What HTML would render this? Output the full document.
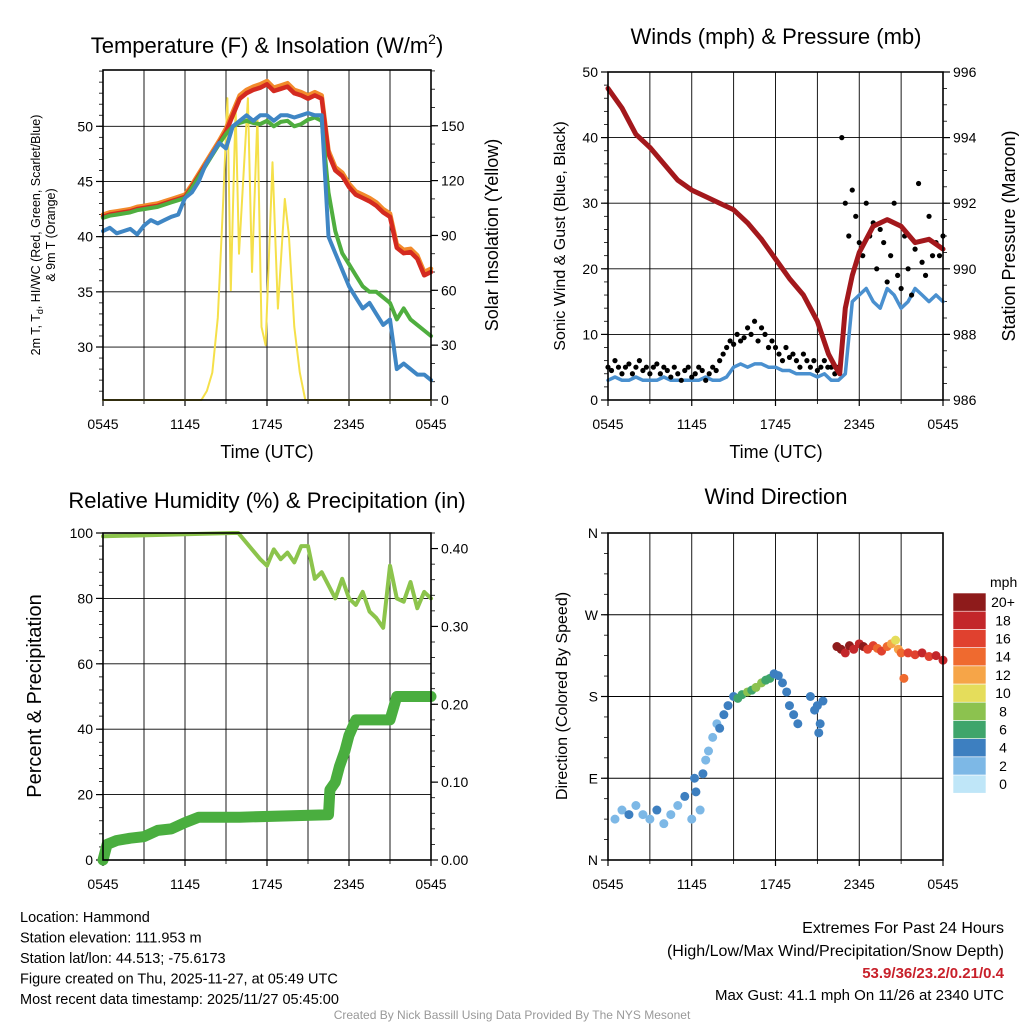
<!DOCTYPE html>
<html><head><meta charset="utf-8"><style>
html,body{margin:0;padding:0;background:#fff;}
svg{display:block;font-family:"Liberation Sans",Arial,sans-serif;}
</style></head><body>
<svg id="chart" width="1024" height="1024" viewBox="0 0 1024 1024">
<rect width="1024" height="1024" fill="#fff"/>
</svg>
<script>
// ---------- Panel 1 data: temperature & insolation ----------
const tHours = [0,0.5,1,1.5,2,2.5,3,3.5,4,4.5,5,5.5,6,6.5,7,7.5,8,8.5,9,9.5,10,10.5,11,11.5,12,12.5,13,13.5,14,14.5,15,15.5,16,16.5,17,17.5,18,18.5,19,19.5,20,20.5,21,21.5,22,22.5,23,23.5,24];
const tempRed = [41.8,42,42.1,42.2,42.3,42.5,42.6,42.7,42.8,43,43.2,43.4,43.6,44.5,45.5,46.5,47.5,48.5,49.5,51,52.5,53,53.3,53.5,53.8,53.2,53.4,53.6,53,52.8,52.5,52.8,52.5,47.5,46,45.5,44.5,43.8,43.5,43.2,42.8,42.2,41.8,39,38.5,38.6,38,36.5,36.8];
const tempOrange = [42,42.2,42.3,42.4,42.5,42.7,42.8,42.9,43,43.2,43.4,43.6,43.8,44.7,45.7,46.7,47.7,48.7,49.8,51.3,52.8,53.3,53.6,53.8,54.1,53.5,53.7,53.9,53.3,53.1,52.8,53.1,52.8,47.8,46.3,45.8,44.8,44.1,43.8,43.5,43.1,42.5,42.1,39.3,38.8,38.9,38.3,36.8,37.1];
const tempGreen = [41.7,41.9,42,42.1,42.2,42.4,42.5,42.6,42.7,42.9,43.1,43.3,43.5,44.4,45.4,46.4,47.4,48.4,49.3,50,50.3,50.5,50.3,50.2,50.5,50,50.4,50.5,50,50.2,50.6,50.8,50.5,44,40.5,38.5,37.5,36.5,35.5,35,35,34.5,34,32.5,33.5,32.5,32,31.5,31];
const tempBlue = [40.5,40.8,40.3,40.5,40.7,40.2,41,41.5,41.2,41.5,41.8,42,43.5,44,45,46.5,47.5,48.5,48,50,50.5,51,50.5,51,51,50.5,51,51,50.8,51,51.2,51,51,40,38.5,37,35.5,34.5,33.5,34,33,32,32.5,28,28.5,28,27.5,27.5,27];
const solarHours = [0,7.2,7.6,8.0,8.4,8.8,9.1,9.35,9.7,9.95,10.6,10.9,11.3,11.6,11.9,12.4,12.8,13.3,13.6,14.0,14.4,14.8,24];
const solar = [0,0,5,15,45,110,165,60,160,80,165,70,155,40,30,130,50,110,90,40,15,0,0];
const p1LeftTicks = [30,35,40,45,50];
const p1RightTicks = [0,30,60,90,120,150];
const xTickLabels = ["0545","1145","1745","2345","0545"];

// ---------- Panel 2 data: winds & pressure ----------
const presHours = [0,1,2,3,4,5,6,7,8,9,10,11,12,13,14,15,15.8,16.3,16.6,17,17.5,18,19,20,21,22,23,24];
const pressure = [995.5,994.9,994.1,993.7,993.2,992.7,992.4,992.2,992.0,991.8,991.4,990.9,990.3,989.7,989.2,988.4,987.4,987.0,986.8,988.8,989.8,990.5,991.3,991.5,991.3,990.8,990.9,990.6];
const windHours = tHours;
const windSpeed = [3,3.5,3,3,3.5,3,3,3,3.5,3,3,3,3,3,3.5,3,3,3.5,5,5.5,5,5.5,5.5,5,5,4.5,4.5,4,4,4,3.5,4,3,3,4,15,16,17,15,14,17,16,14,15,17,16,15,16,15];
const gust = [5,4.5,6,5,4,5,5.5,4,5,6,4.5,5,4,5,5.5,4,5,4.5,3.5,5,4,3,4.5,5,3.5,4,5,4.5,3,4,5,4.5,6,
 7,8,9,8.5,10,9,9.5,11,10,12,9,11,10,8,9,8,
 7,6,8,6.5,7,6,5,7,6,5,6,4.5,5,6,5,5,
 4,5,40,30,25,32,28,24,22,30,25,27,20,26,24,18,22,30,19,17,25,20,16,23,33,21,19,28,22,24,22,25];
const p2LeftTicks = [0,10,20,30,40,50];
const p2RightTicks = [986,988,990,992,994,996];

// ---------- Panel 3 data: RH & precipitation ----------
const rhHours = [0,5,9.5,9.9,10.5,11.5,12,12.5,13,13.5,14,14.5,15,15.5,16,16.5,17,17.5,18,18.5,19,19.5,20,20.5,21,21.5,22,22.5,23,23.5,24];
const rh = [99,99.5,100,100,97,92,90,95,92,94,91,96,96,86,88,84,80,86,80,78,82,76,74,71,90,80,79,85,77,82,80];
const precipHours = [0,0.3,1,2,3,4,5,6,7,10,16.5,16.6,17,17.3,17.7,18,18.5,21,21.5,24];
const precip = [0,0.02,0.025,0.028,0.03,0.038,0.04,0.048,0.055,0.055,0.058,0.09,0.1,0.12,0.14,0.16,0.18,0.18,0.21,0.21];
const p3LeftTicks = [0,20,40,60,80,100];
const p3RightTicks = [0,0.1,0.2,0.3,0.4];
const p3RightLabels = ["0.00","0.10","0.20","0.30","0.40"];

// ---------- Panel 4 data: wind direction ----------
const dirHours = [0.5,1,1.5,2,2.5,3,3.5,4,4.5,5,5.5,6,6.2,6.3,6.6,6.8,7,7.2,7.5,7.8,8,8.3,8.6,9,9.3,9.6,10,10.3,10.6,11,11.3,11.6,11.9,12.2,12.5,12.8,13,13.3,13.6,14.5,14.8,15,15.1,15.2,15.4,16.4,16.7,17,17.3,17.6,18,18.3,18.6,19,19.3,19.6,20,20.3,20.6,20.8,21,21.2,21.5,22,22.5,23,23.5,24];
const dirDeg = [45,55,50,60,50,45,55,40,50,60,70,45,90,75,55,95,110,120,135,150,145,160,170,180,178,182,185,187,190,195,198,200,205,203,195,185,170,160,150,180,165,170,140,150,175,235,232,228,236,232,238,235,232,236,233,230,235,238,242,232,228,200,228,226,228,224,225,220];
const dirSpeed = [2,2,3,2,2,2,3,2,2,2,3,2,3,3,2,3,2,2,2,2,3,3,4,4,5,6,7,6,7,7,6,6,4,4,4,4,3,3,3,4,4,3,3,3,3,20,20,18,19,17,18,20,16,15,14,15,13,12,10,12,13,14,15,16,17,16,18,17];
const speedColors = ["#bfe6f8","#7db8e6","#3d7fc0","#3fa56b","#8cc24f","#e5dd5b","#f6a548","#ef6a2f","#e0412f","#c3262a","#8e1b1b"];
const speedLabels = ["0","2","4","6","8","10","12","14","16","18","20+"];
const dirTickLabels = ["N","E","S","W","N"];

// ---------- drawing ----------
const NS = "http://www.w3.org/2000/svg";
const svg = document.getElementById("chart");
function mk(tag, attrs, parent){ const e=document.createElementNS(NS,tag); for(const k in attrs) e.setAttribute(k,attrs[k]); (parent||svg).appendChild(e); return e; }
function txt(s, attrs, parent){ const e=mk("text",attrs,parent); e.textContent=s; return e; }
function lin(d0,d1,r0,r1){ return v => r0 + (v-d0)/(d1-d0)*(r1-r0); }

function frame(g, L,T,R,B, leftTicks, leftFmt, leftMinorStep, ly, rightTicks, rightFmt, rightMinorStep, ry, ld0, ld1, rd0, rd1){
  const xs = lin(0,24,L,R);
  for(let h=3; h<24; h+=3){
    const gl = mk("line",{x1:xs(h),x2:xs(h),y1:T,y2:B,stroke:"#000","stroke-width":0.9},g);
    
    
  }
  leftTicks.forEach((v,i)=>{
    const y=ly(v);
    if(y>T+1 && y<B-1){
      const gl = mk("line",{x1:L,x2:R,y1:y,y2:y,stroke:"#000","stroke-width":0.9},g);
      
      
    }
    mk("line",{x1:L-7,x2:L,y1:y,y2:y,stroke:"#000","stroke-width":1.2},g);
    const t = txt(leftFmt(v,i),{x:L-10,y:y+5,"text-anchor":"end","font-size":14},g);
    
    
  });
  if(leftMinorStep){
    for(let v=ld0; v<=ld1+1e-6; v+=leftMinorStep){ const y=ly(v); if(y>=T&&y<=B) mk("line",{x1:L-4,x2:L,y1:y,y2:y,stroke:"#000","stroke-width":0.8},g); }
  }
  if(rightTicks){
    rightTicks.forEach((v,i)=>{
      const y=ry(v);
      mk("line",{x1:R,x2:R+7,y1:y,y2:y,stroke:"#000","stroke-width":1.2},g);
      const t = txt(rightFmt(v,i),{x:R+10,y:y+5,"font-size":14},g);
      
      
    });
    if(rightMinorStep){
      for(let v=rd0; v<=rd1+1e-6; v+=rightMinorStep){ const y=ry(v); if(y>=T&&y<=B) mk("line",{x1:R,x2:R+4,y1:y,y2:y,stroke:"#000","stroke-width":0.8},g); }
    }
  }
  xTickLabels.forEach((s,i)=>{
    const x = xs(i*6);
    mk("line",{x1:x,x2:x,y1:B,y2:B+6,stroke:"#000","stroke-width":1.2},g);
    const t = txt(s,{x:x,y:B+29,"text-anchor":"middle","font-size":14},g);
    
    
  });
  for(let h=3; h<24; h+=6){ const x=xs(h); mk("line",{x1:x,x2:x,y1:B,y2:B+4,stroke:"#000","stroke-width":0.8},g); }
}
function border(g,L,T,R,B){
  const r = mk("rect",{x:L,y:T,width:R-L,height:B-T,fill:"none",stroke:"#000","stroke-width":1.6},g);
  
  
}
function path(g, hs, vs, xs, ys, color, w, name){
  let d=""; hs.forEach((h,i)=>{ d += (i?"L":"M")+xs(h).toFixed(1)+","+ys(vs[i]).toFixed(1); });
  const p = mk("path",{d:d,fill:"none",stroke:color,"stroke-width":w,"stroke-linejoin":"round","stroke-linecap":"round"},g);
  
  
  return p;
}

// ===== Panel 1 =====
(function(){
  const L=103,T=70,R=431,B=400;
  const g = mk("g",{});
  
  
  const xs=lin(0,24,L,R), ys=lin(25.2,55.1,B,T), ysr=lin(0,180.5,B,T);
  frame(g,L,T,R,B,p1LeftTicks,v=>String(v),1,ys,p1RightTicks,v=>String(v),10,ysr,26,55,0,180);
  path(g,solarHours,solar,xs,ysr,"#f5e04a",2,"solar-insolation-line");
  path(g,tHours,tempOrange,xs,ys,"#f28a2b",4.5,"temp-9m-line");
  path(g,tHours,tempRed,xs,ys,"#d42a20",4.5,"temp-2m-line");
  path(g,tHours,tempGreen,xs,ys,"#4fae3f",4,"heat-index-windchill-line");
  path(g,tHours,tempBlue,xs,ys,"#3f86c4",4,"dewpoint-line");
  border(g,L,T,R,B);
  let t=txt("Temperature (F) & Insolation (W/m",{x:267,y:53,"text-anchor":"middle","font-size":22},g);
  const sup=mk("tspan",{dy:-9,"font-size":14},t); sup.textContent="2";
  const cl=mk("tspan",{dy:9},t); cl.textContent=")";
   
  t=txt("Time (UTC)",{x:267,y:458,"text-anchor":"middle","font-size":18},g);
   
  t=txt("Solar Insolation (Yellow)",{x:0,y:0,"text-anchor":"middle","font-size":18,transform:"translate(498,235) rotate(-90)"},g);
   
  t=txt("2m T, T",{x:0,y:0,"text-anchor":"middle","font-size":12.5,transform:"translate(40,235) rotate(-90)"},g);
  const sub=mk("tspan",{dy:3,"font-size":9},t); sub.textContent="d";
  const rest=mk("tspan",{dy:-3},t); rest.textContent=", HI/WC (Red, Green, Scarlet/Blue)";
   
  t=txt("& 9m T (Orange)",{x:0,y:0,"text-anchor":"middle","font-size":12.5,transform:"translate(55,235) rotate(-90)"},g);
   
})();

// ===== Panel 2 =====
(function(){
  const L=608,T=72,R=943,B=400;
  const g = mk("g",{});
  
  
  const xs=lin(0,24,L,R), ys=lin(0,50,B,T), ysr=lin(986,996,B,T);
  frame(g,L,T,R,B,p2LeftTicks,v=>String(v),2,ys,p2RightTicks,v=>String(v),0.5,ysr,0,50,986,996);
  path(g,windHours,windSpeed,xs,ys,"#4a90cf",3.5,"sonic-wind-line");
  gust.forEach((v,i)=>{
    const c = mk("circle",{cx:xs(i*0.25),cy:ys(v),r:2.6,fill:"#000"},g);
    
    
  });
  path(g,presHours,pressure,xs,ysr,"#a3181c",5,"station-pressure-line");
  border(g,L,T,R,B);
  let t=txt("Winds (mph) & Pressure (mb)",{x:776,y:44,"text-anchor":"middle","font-size":22},g);
   
  t=txt("Time (UTC)",{x:776,y:458,"text-anchor":"middle","font-size":18},g);
   
  t=txt("Sonic Wind & Gust (Blue, Black)",{x:0,y:0,"text-anchor":"middle","font-size":16,transform:"translate(565,236) rotate(-90)"},g);
   
  t=txt("Station Pressure (Maroon)",{x:0,y:0,"text-anchor":"middle","font-size":18,transform:"translate(1015,236) rotate(-90)"},g);
   
})();

// ===== Panel 3 =====
(function(){
  const L=103,T=533,R=431,B=860;
  const g = mk("g",{});
  
  
  const xs=lin(0,24,L,R), ys=lin(0,100,B,T), ysr=lin(0,0.42,B,T);
  frame(g,L,T,R,B,p3LeftTicks,v=>String(v),4,ys,p3RightTicks,(v,i)=>p3RightLabels[i],0.02,ysr,0,100,0,0.42);
  path(g,rhHours,rh,xs,ys,"#8cc44c",4,"relative-humidity-line");
  path(g,precipHours,precip,xs,ysr,"#4aae3f",11,"precipitation-line");
  border(g,L,T,R,B);
  let t=txt("Relative Humidity (%) & Precipitation (in)",{x:267,y:508,"text-anchor":"middle","font-size":22},g);
   
  t=txt("Percent & Precipitation",{x:0,y:0,"text-anchor":"middle","font-size":20,transform:"translate(41,696) rotate(-90)"},g);
   
})();

// ===== Panel 4 =====
(function(){
  const L=608,T=533,R=943,B=860;
  const g = mk("g",{});
  
  
  const xs=lin(0,24,L,R), ys=lin(0,360,B,T);
  frame(g,L,T,R,B,[0,90,180,270,360],(v,i)=>dirTickLabels[i],22.5,ys,null,null,null,null,0,360,0,0);
  dirHours.forEach((h,i)=>{
    const bin = Math.min(10, Math.round(dirSpeed[i]/2));
    const c = mk("circle",{cx:xs(h),cy:ys(dirDeg[i]),r:4.5,fill:speedColors[bin]},g);
    
    
  });
  border(g,L,T,R,B);
  let t=txt("Wind Direction",{x:776,y:504,"text-anchor":"middle","font-size":22},g);
   
  t=txt("Direction (Colored By Speed)",{x:0,y:0,"text-anchor":"middle","font-size":16,transform:"translate(567,696) rotate(-90)"},g);
   
  const cb = mk("g",{},g);
  
  
  t=txt("mph",{x:990,y:587,"font-size":14},cb);
   
  const bh=18.2, top=593;
  speedColors.forEach((c,i)=>{
    const y = top + (10-i)*bh;
    const r = mk("rect",{x:953,y:y,width:33,height:bh,fill:c,stroke:"#fff","stroke-width":0.6},cb);
    
    
    const lt = txt(speedLabels[i],{x:1003,y:y+bh/2+5,"text-anchor":"middle","font-size":14},cb);
    
    
  });
})();

// ===== Footer =====
(function(){
  const g = mk("g",{});
  
  
  const lines = ["Location: Hammond","Station elevation: 111.953 m","Station lat/lon: 44.513; -75.6173","Figure created on Thu, 2025-11-27, at 05:49 UTC","Most recent data timestamp: 2025/11/27 05:45:00"];
  lines.forEach((s,i)=>{
    const t = txt(s,{x:20,y:922+i*20.5,"font-size":14.5},g);
    
    
  });
  let t = txt("Extremes For Past 24 Hours",{x:1004,y:933,"text-anchor":"end","font-size":16},g);
   
  t = txt("(High/Low/Max Wind/Precipitation/Snow Depth)",{x:1004,y:956,"text-anchor":"end","font-size":16},g);
   
  t = txt("53.9/36/23.2/0.21/0.4",{x:1004,y:978,"text-anchor":"end","font-size":15,"font-weight":"bold",fill:"#c8202a"},g);
   
  t = txt("Max Gust: 41.1 mph On 11/26 at 2340 UTC",{x:1004,y:1000,"text-anchor":"end","font-size":15},g);
   
  t = txt("Created By Nick Bassill Using Data Provided By The NYS Mesonet",{x:512,y:1019,"text-anchor":"middle","font-size":12,fill:"#999"},g);
   
})();
</script>
</body></html>
